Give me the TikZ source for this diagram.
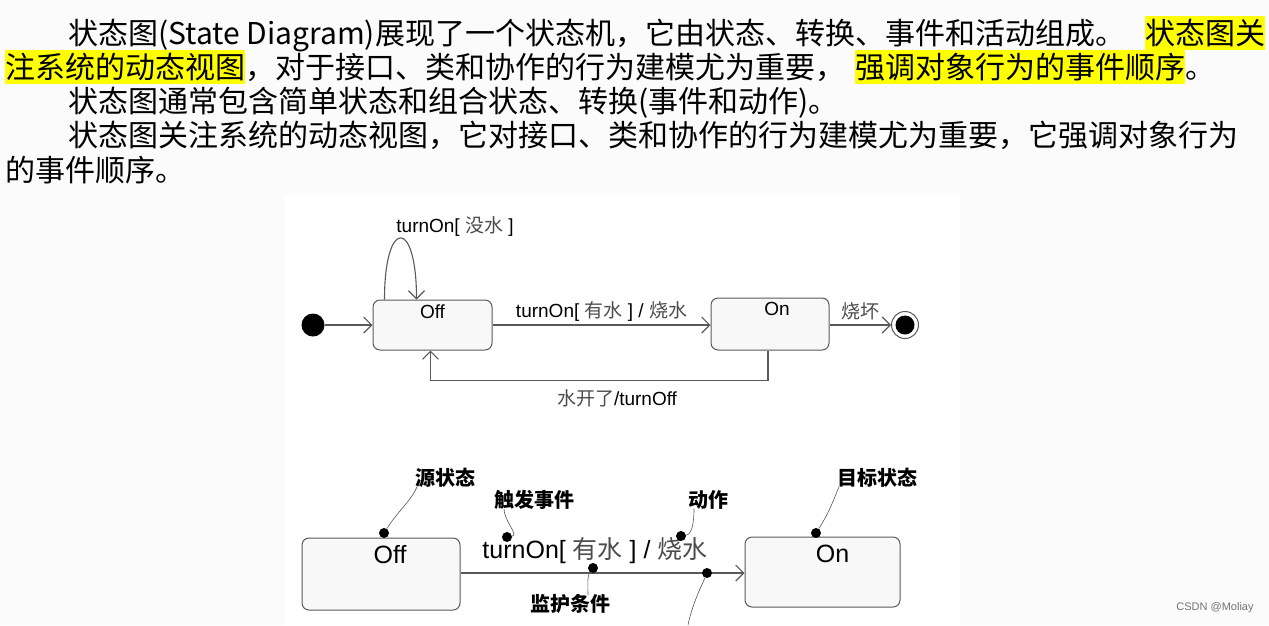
\documentclass[tikz,border=0pt]{standalone}
\usepackage{fontspec}
\setmainfont{Liberation Sans}
\newfontfamily\cjk{Noto Sans CJK SC}
\usetikzlibrary{arrows.meta,positioning}

\newcommand{\zh}[1]{{\cjk\color{black!70}#1}}
\definecolor{linegray}{HTML}{5A5A5A}
\definecolor{boxfill}{HTML}{F8F8F8}
\definecolor{hiyellow}{HTML}{FFFF00}

\begin{document}
\begin{tikzpicture}[x=1pt, y=-1pt,
    para/.style={font=\cjk\fontsize{30}{34}\selectfont, inner sep=0pt, anchor=base west,
                 text height=28pt, text depth=6pt},
    hilite/.style={fill=hiyellow},
    state/.style={draw=linegray, fill=boxfill, rounded corners=7pt, line width=1pt},
    trans/.style={draw=linegray, line width=1.1pt, -{Straight Barb[length=8pt,width=16pt]}},
    lbl/.style={font=\fontsize{19}{21}\selectfont, inner sep=1pt},
    biglbl/.style={font=\fontsize{25}{27}\selectfont, inner sep=1pt},
    note/.style={font=\cjk\bfseries\fontsize{20}{22}\selectfont, inner sep=1pt},
    pin/.style={draw=black!65, line width=0.6pt},
    dot/.style={circle, fill=black, inner sep=0pt, minimum size=10pt}
]
\useasboundingbox (0,0) rectangle (1269,625);
\fill[black!1.5] (0,0) rectangle (1269,625);
\fill[white] (285,195) rectangle (960,625);

% text above the diagrams
\node[para] (t1a) at (68,44) {状态图(State Diagram)展现了一个状态机，它由状态、转换、事件和活动组成。};
\node[para, hilite] (t1b) at (1145,44) {状态图关};
\node[para, hilite] (t2a) at (5,78) {注系统的动态视图};
\node[para] (t2b) at (t2a.base east) {，对于接口、类和协作的行为建模尤为重要，};
\node[para, hilite] (t2c) at (855,78) {强调对象行为的事件顺序};
\node[para] (t2d) at (t2c.base east) {。};
\node[para] (t3) at (68,112) {状态图通常包含简单状态和组合状态、转换(事件和动作)。};
\node[para] (t4) at (68,146) {状态图关注系统的动态视图，它对接口、类和协作的行为建模尤为重要，它强调对象行为};
\node[para] (t5) at (5,181) {的事件顺序。};

% upper diagram
\node[circle, fill=black, minimum size=23pt, inner sep=0pt] (init) at (313,325) {};
\node[state, minimum width=119pt, minimum height=50pt] (off1) at (432.5,325) {};
\node[lbl, below=4pt of off1.north] {Off};
\node[state, minimum width=118pt, minimum height=52pt] (on1) at (770,324) {};
\node[lbl, below=4pt of on1.north, xshift=7pt] {On};
\node[circle, draw=linegray, line width=1pt, minimum size=27pt, inner sep=0pt] (final) at (905,325) {};
\fill[black] (final.center) circle (9.5pt);

\draw[trans] (init) -- (off1);
\draw[trans] ([xshift=12pt]off1.north west) .. controls +(0,-82) and +(0,-82) .. ([xshift=44pt]off1.north west);
\node[lbl] (selflbl) at (455,227) {turnOn[ \zh{没水} ]};
\draw[trans] (off1) -- node[lbl, above=2pt] {turnOn[ \zh{有水} ] / \zh{烧水}} (on1.west |- off1);
\draw[trans] (on1.east |- final) -- node[lbl, above=3pt] {\zh{烧坏}} (final);
\draw[trans] ([xshift=-2pt]on1.south) -- ++(0,30) -| ([xshift=-2pt]off1.south);
\node[lbl] (backlbl) at (617,398) {\zh{水开了}/turnOff};

% lower diagram with notes
\node[state, minimum width=158pt, minimum height=72pt] (off2) at (381,574) {};
\node[biglbl, below=7pt of off2.north, xshift=9pt] {Off};
\node[state, minimum width=155pt, minimum height=70pt] (on2) at (822.5,572) {};
\node[biglbl, below=7pt of on2.north, xshift=10pt] {On};
\draw[trans] (off2.east |- 0,573) -- (on2.west |- 0,573);
\node[biglbl] (translbl) at (595,551) {turnOn[ \zh{有水} ] / \zh{烧水}};

\node[note] (srcnote) at (445,478) {源状态};
\node[note] (evnote) at (534,500) {触发事件};
\node[note] (actnote) at (708,500) {动作};
\node[note] (tgtnote) at (877,478) {目标状态};
\node[note] (grdnote) at (570,604) {监护条件};

\node[dot] (srcdot) at (384,533) {};
\node[dot] (evdot) at (507,537) {};
\node[dot] (actdot) at (681,536) {};
\node[dot] (tgtdot) at (816,533) {};
\node[dot] (grddot) at (593,568) {};
\node[dot] (enddot) at (707,573) {};
\coordinate (cut) at (688,625);

\draw[pin] (srcdot) .. controls +(14,-22) and +(-6,14) .. ([xshift=-28pt,yshift=2pt]srcnote.south);
\draw[pin] (evdot) .. controls +(12,-2) and +(0,12) .. ([xshift=-30pt,yshift=2pt]evnote.south);
\draw[pin] (actdot) .. controls +(12,-2) and +(0,10) .. ([xshift=-14pt,yshift=2pt]actnote.south);
\draw[pin] (tgtdot) .. controls +(14,-22) and +(-6,14) .. ([xshift=-38pt,yshift=2pt]tgtnote.south);
\draw[pin] (grddot) .. controls +(-6,8) and +(0,-8) .. ([xshift=18pt,yshift=-2pt]grdnote.north);
\draw[pin] (enddot) .. controls +(-6,14) and +(4,-20) .. (cut);

% watermark
\node[font=\fontsize{11}{13}\selectfont, text=black!55] (mark) at (1215,608) {CSDN @Moliay};
\end{tikzpicture}
\end{document}
